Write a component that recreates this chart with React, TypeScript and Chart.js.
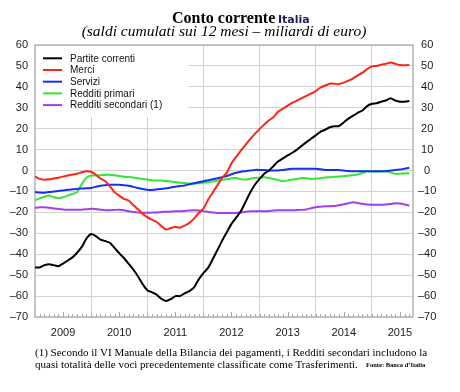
import React, { useEffect, useRef } from 'react';
import { Chart, registerables } from 'chart.js';

Chart.register(...registerables);

// Months since January 2009 (monthly data, Jan 2009 – Sep 2015)
const firstYear = 2009;
const yearLabels = ['2009', '2010', '2011', '2012', '2013', '2014', '2015'];

const seriesLabels = ['Partite correnti', 'Merci', 'Servizi', 'Redditi primari', 'Redditi secondari (1)'];
const seriesColors = ['#000000', '#ff2415', '#1530f0', '#32e632', '#a23ef0'];

const partiteCorrenti = [
  -46.3, -46.3, -45.3, -44.8, -45.2, -45.7, -44.5, -43, -41.5, -39.3,
  -36.5, -32.5, -30.3, -31.3, -33, -33.7, -34.5, -37, -39.5, -41.8,
  -44.5, -47.3, -50.5, -54.3, -57.2, -58.2, -59.3, -61.3, -62.4, -61.5,
  -60, -60, -58.7, -57.6, -55.8, -52, -49, -46.5, -42.3, -38,
  -33.5, -29.5, -25.5, -22.5, -19.5, -15, -10.5, -6.8, -4, -1.5,
  0, 2.2, 4.4, 5.8, 7.2, 8.5, 10, 11.8, 13.5, 15.2,
  16.8, 18.5, 19.5, 20.7, 21.2, 21.3, 23, 24.8, 26.2, 27.6,
  28.7, 30.8, 31.9, 32.2, 32.9, 33.5, 34.6, 33.5, 32.9, 32.9,
  33.2,
];

const merci = [
  -2.9, -4, -4.4, -4.2, -3.8, -3.4, -2.9, -2.4, -1.9, -1.5,
  -0.8, -0.3, -0.6, -2, -3.8, -5, -7.5, -10.3, -12, -13.5,
  -14.3, -16.5, -18.5, -20.6, -22.3, -23.5, -24.6, -26.5, -28.2, -27.5,
  -27, -27.3, -26.3, -25, -23, -20.3, -18.2, -14, -10.5, -7,
  -3.5, -1, 3.5, 6.5, 9.5, 12.3, 15, 17.5, 19.8, 22,
  24, 25.6, 28.2, 29.6, 31, 32.3, 33.4, 34.6, 35.7, 36.8,
  38, 39.6, 40.6, 41.5, 41.5, 41.3, 42, 43, 44.1, 45.5,
  46.8, 48.5, 49.8, 50, 50.6, 51, 51.6, 51, 50.4, 50.3,
  50.5,
];

const servizi = [
  -10.3, -10.5, -10.6, -10.3, -10, -9.8, -9.5, -9.2, -9, -8.8,
  -8.6, -8.5, -8.3, -7.8, -7.3, -7, -6.8, -6.8, -6.8, -7,
  -7.3, -7.8, -8.3, -8.8, -9.2, -9.3, -9.1, -8.8, -8.5, -8.1,
  -7.7, -7.4, -7.1, -6.6, -6.1, -5.6, -5.1, -4.6, -4.2, -3.7,
  -3.2, -2.6, -1.8, -1.1, -0.6, -0.3, 0, 0.3, 0.3, 0.2,
  0, 0, 0, 0.3, 0.6, 0.8, 0.9, 0.9, 0.8, 0.8,
  0.8, 0.6, 0.3, 0.3, 0.3, 0.2, 0, -0.2, -0.3, -0.3,
  -0.3, -0.3, -0.3, -0.3, -0.3, -0.3, 0, 0.3, 0.5, 0.9,
  1.3,
];

const redditiPrimari = [
  -14.3, -13.3, -12.5, -11.9, -12.8, -13.2, -12.7, -12, -11.2, -10.3,
  -6.5, -3.5, -2.4, -2.4, -2.2, -2.1, -2, -2.3, -2.6, -3,
  -3.1, -3.3, -3.7, -4, -4.3, -4.6, -4.8, -4.8, -5, -5.2,
  -5.5, -5.8, -6, -6.2, -6.3, -6.1, -5.8, -5.6, -5.2, -4.8,
  -4.4, -4.2, -3.7, -3.6, -4.1, -4.4, -3.9, -3.5, -3.4, -3.2,
  -3.6, -4, -4.6, -5.1, -4.7, -4.3, -4, -3.6, -3.7, -4,
  -3.8, -3.7, -3.3, -3.2, -3, -2.8, -2.7, -2.5, -2.2, -1.9,
  -1.2, -0.4, -0.4, -0.5, -0.4, -0.3, -0.8, -1.6, -1.5, -1.4,
  -1.3,
];

const redditiSecondari = [
  -17.8, -17.6, -17.5, -17.8, -18.1, -18.4, -18.6, -18.7, -18.7, -18.7,
  -18.7, -18.5, -18.3, -18.4, -18.7, -19, -19, -18.8, -18.7, -19,
  -19.5, -19.8, -20, -20.2, -20.2, -20.1, -20, -19.8, -19.7, -19.6,
  -19.5, -19.5, -19.3, -19.1, -19, -19.1, -19.4, -19.8, -20.1, -20.3,
  -20.3, -20.3, -20.3, -20.3, -20, -19.7, -19.5, -19.5, -19.4, -19.4,
  -19.3, -19.1, -19, -19, -19, -19, -18.9, -18.8, -18.6, -18,
  -17.5, -17.3, -17.1, -17.1, -17, -16.6, -16.1, -15.6, -15.1, -15.5,
  -15.9, -16.2, -16.3, -16.3, -16.3, -16.2, -16, -15.6, -15.8, -16.2,
  -16.7,
];

const seriesValues = [partiteCorrenti, merci, servizi, redditiPrimari, redditiSecondari];
const monthIndex = partiteCorrenti.map((_, i) => i);

const Y_MIN = -70;
const Y_MAX = 60;
const X_MAX = 80.8;

const fmt = (v: number) => (v < 0 ? '\u2013' + Math.abs(v) : String(v));

const decorPlugin = {
  id: 'decor',
  beforeDatasetsDraw(chart: any) {
    const { ctx, chartArea: a, scales } = chart;
    const xs = scales.x;
    ctx.save();
    // legend background
    ctx.fillStyle = '#ffffff';
    ctx.fillRect(a.left + 1, a.top + 1, 152, 71);
    // minor monthly ticks inside the bottom of the plot
    ctx.strokeStyle = '#a8a8a8';
    ctx.lineWidth = 1;
    for (const m of monthIndex) {
      const px = Math.round(xs.getPixelForValue(m)) + 0.5;
      const len = m % 12 === 6 ? 5 : 3;
      ctx.beginPath();
      ctx.moveTo(px, a.bottom);
      ctx.lineTo(px, a.bottom - len);
      ctx.stroke();
    }
    // frame
    ctx.strokeStyle = '#b4b4b4';
    ctx.lineWidth = 1.5;
    ctx.strokeRect(a.left, a.top, a.right - a.left, a.bottom - a.top);
    // legend
    ctx.font = '10px "Liberation Sans", Arial, sans-serif';
    ctx.textBaseline = 'middle';
    ctx.textAlign = 'left';
    seriesLabels.forEach((label, i) => {
      const y = a.top + 13.3 + i * 11.7;
      ctx.strokeStyle = seriesColors[i];
      ctx.lineWidth = 2;
      ctx.beginPath();
      ctx.moveTo(a.left + 8, y);
      ctx.lineTo(a.left + 27, y);
      ctx.stroke();
      ctx.fillStyle = '#111';
      ctx.fillText(label, a.left + 35, y + 0.5);
    });
    ctx.restore();
  },
  afterDraw(chart: any) {
    const { ctx } = chart;
    ctx.save();
    ctx.textBaseline = 'alphabetic';
    ctx.textAlign = 'left';
    ctx.fillStyle = '#000';
    ctx.font = 'bold 16px "Liberation Serif", "Times New Roman", serif';
    ctx.fillText('Conto corrente', 172, 23);
    ctx.fillStyle = '#1c1c5a';
    ctx.font = 'bold 11px "DejaVu Sans", sans-serif';
    ctx.fillText('Italia', 278, 23);
    ctx.fillStyle = '#000';
    ctx.textAlign = 'center';
    ctx.font = 'italic 15.5px "Liberation Serif", "Times New Roman", serif';
    ctx.fillText('(saldi cumulati sui 12 mesi \u2013 miliardi di euro)', 224, 36);
    ctx.textAlign = 'left';
    ctx.font = '11px "Liberation Serif", "Times New Roman", serif';
    ctx.fillText('(1) Secondo il VI Manuale della Bilancia dei pagamenti, i Redditi secondari includono la', 35, 356);
    ctx.fillText('quasi totalit\u00e0 delle voci precedentemente classificate come Trasferimenti.', 35, 368);
    ctx.font = 'bold 6.5px "Liberation Serif", "Times New Roman", serif';
    ctx.fillText('Fonte: Banca d\u2019Italia', 366, 367);
    ctx.restore();
  },
};

export default function App() {
  const ref = useRef<HTMLCanvasElement | null>(null);

  useEffect(() => {
    if (!ref.current) return;
    const tickFont = { family: '"Liberation Sans", Arial, sans-serif', size: 11 };
    const chart = new Chart(ref.current, {
      type: 'line',
      data: {
        datasets: seriesValues.map((vals, i) => ({
          label: seriesLabels[i],
          data: vals.map((v, m) => ({ x: monthIndex[m], y: v })),
          borderColor: seriesColors[i],
          backgroundColor: seriesColors[i],
          borderWidth: 2,
          pointRadius: 0,
          tension: 0.2,
          fill: false,
        })),
      },
      options: {
        animation: false,
        responsive: false,
        events: [],
        layout: { padding: { top: 45, bottom: 47, left: 0, right: 0 } },
        plugins: { legend: { display: false }, tooltip: { enabled: false }, title: { display: false } },
        scales: {
          x: {
            type: 'linear',
            min: 0,
            max: X_MAX,
            afterBuildTicks: (axis: any) => {
              axis.ticks = monthIndex.map((v) => ({ value: v }));
            },
            afterFit: (axis: any) => {
              axis.height = 28;
            },
            grid: {
              drawTicks: false,
              lineWidth: 1,
              color: (c: any) =>
                c.tick && c.tick.value % 12 === 0 && c.tick.value > 0 ? '#cfcfcf' : 'rgba(0,0,0,0)',
            },
            border: { display: false },
            ticks: {
              autoSkip: false,
              maxRotation: 0,
              padding: 9,
              color: '#1a1a1a',
              font: tickFont,
              callback: (v: any) => {
                const n = Number(v);
                if ((n - 6) % 12 !== 0) return '';
                const idx = (n - 6) / 12;
                return yearLabels[idx] ?? String(firstYear + idx);
              },
            },
          },
          y: {
            position: 'left',
            min: Y_MIN,
            max: Y_MAX,
            afterFit: (axis: any) => {
              axis.width = 35;
            },
            grid: { drawTicks: false, color: '#d2d2d2', lineWidth: 1 },
            border: { display: false },
            ticks: { stepSize: 10, padding: 7, color: '#1a1a1a', font: tickFont, callback: (v: any) => fmt(Number(v)) },
          },
          y2: {
            position: 'right',
            min: Y_MIN,
            max: Y_MAX,
            afterFit: (axis: any) => {
              axis.width = 47;
            },
            grid: { display: false, drawTicks: false },
            border: { display: false },
            ticks: {
              stepSize: 10,
              padding: 5,
              crossAlign: 'center',
              color: '#1a1a1a',
              font: tickFont,
              callback: (v: any) => fmt(Number(v)),
            },
          },
        },
      },
      plugins: [decorPlugin],
    });
    return () => chart.destroy();
  }, []);

  return (
    <div style={{ position: 'fixed', left: 0, top: 0, width: 460, height: 392, background: '#fff' }}>
      <canvas ref={ref} width={460} height={392} style={{ width: 460, height: 392, display: 'block' }} />
    </div>
  );
}
